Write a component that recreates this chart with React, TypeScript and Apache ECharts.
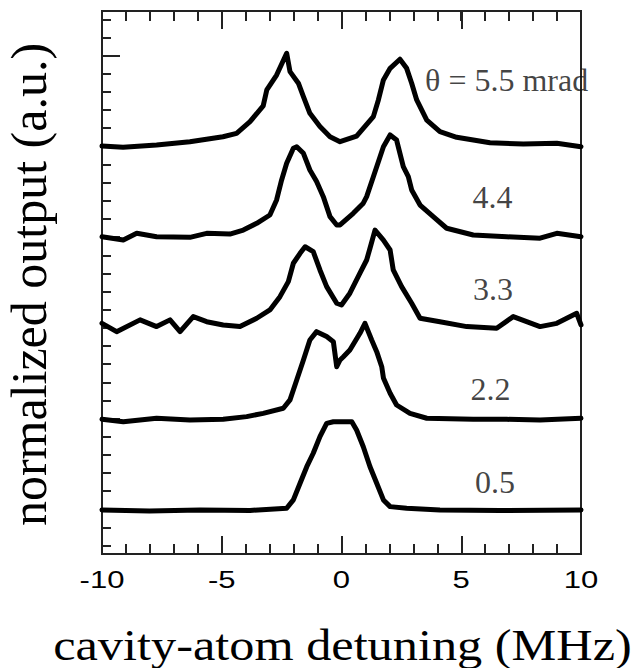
import React, { useEffect, useRef } from "react";
import * as echarts from "echarts";

// ---- data (x: detuning in MHz, y: normalized output, a.u. with offsets) ----
const detuning55 = [-10, -9.12, -7.72, -6.33, -4.95, -4.38, -3.82, -3.27, -3.12, -2.71, -2.29, -2.15, -1.8, -1.59, -1.32, -0.9, -0.48, -0.06, 0.63, 1.33, 1.54, 1.75, 2.03, 2.44, 2.72, 2.93, 3.14, 3.56, 4.11, 4.81, 6.2, 7.59, 8.99, 10];
const output55 = [22.02, 21.95, 22.08, 22.26, 22.53, 22.72, 23.36, 24.23, 25.11, 25.93, 27.13, 26.12, 25.48, 24.74, 23.82, 23.09, 22.53, 22.26, 22.57, 23.64, 24.56, 25.66, 26.3, 26.8, 26.3, 25.48, 24.56, 23.45, 22.81, 22.5, 22.2, 22.13, 22.17, 21.98];

const detuning44 = [-10, -9.11, -8.55, -7.72, -6.33, -5.63, -4.66, -4.1, -3.54, -2.99, -2.71, -2.5, -2.29, -2.01, -1.87, -1.59, -1.32, -1.04, -0.76, -0.48, -0.2, -0.06, 0.49, 0.91, 1.05, 1.33, 1.61, 1.75, 2.03, 2.3, 2.58, 2.79, 2.93, 3.28, 3.83, 4.39, 5.5, 6.9, 8.29, 8.99, 10];
const output44 = [17.02, 16.84, 17.21, 17.02, 16.99, 17.21, 17.17, 17.39, 17.76, 18.22, 19.05, 20.15, 21.07, 21.9, 21.98, 21.62, 20.7, 20.06, 19.23, 18.13, 17.67, 17.67, 18.31, 18.87, 19.23, 20.33, 21.43, 21.98, 22.63, 22.35, 20.88, 20.33, 19.6, 18.77, 18.13, 17.49, 17.12, 17.02, 16.94, 17.21, 17.02];

const detuning33 = [-10, -9.39, -8.41, -7.72, -7.16, -6.74, -6.19, -5.63, -4.94, -4.24, -3.54, -2.99, -2.57, -2.22, -2.01, -1.73, -1.52, -1.18, -0.9, -0.62, -0.2, 0, 0.35, 0.77, 1.05, 1.19, 1.4, 1.75, 2.03, 2.16, 2.51, 2.93, 3.28, 4.11, 5.23, 6.48, 7.17, 8.29, 8.99, 9.82, 10];
const output33 = [12.25, 11.79, 12.44, 12.07, 12.44, 11.79, 12.62, 12.34, 12.16, 12.07, 12.53, 12.99, 13.72, 14.55, 15.56, 16.11, 16.47, 16.2, 15.19, 14.27, 13.36, 13.26, 13.91, 15.01, 15.74, 16.39, 17.39, 16.84, 16.29, 15.19, 14.27, 13.36, 12.53, 12.34, 12.07, 11.98, 12.62, 12.07, 12.25, 12.8, 12.16];

const detuning22 = [-10, -9.11, -7.72, -6.33, -4.94, -3.96, -3.27, -2.43, -2.15, -1.87, -1.59, -1.32, -1.04, -0.62, -0.34, -0.2, -0.06, 0.08, 0.35, 0.77, 0.98, 1.26, 1.47, 1.68, 1.75, 2.03, 2.3, 2.86, 3.56, 5.5, 6.9, 8.29, 10];
const output22 = [6.96, 6.83, 7.02, 6.93, 6.96, 7.11, 7.29, 7.57, 8.03, 9.13, 10.23, 11.33, 11.79, 11.52, 11.24, 9.86, 10.23, 10.41, 10.78, 11.7, 12.25, 11.33, 10.69, 9.86, 9.24, 8.4, 7.75, 7.29, 7.02, 6.96, 6.96, 6.93, 7.02];

const detuning05 = [-10, -8.02, -5.91, -3.82, -2.29, -2.01, -1.73, -1.45, -1.18, -0.9, -0.62, -0.34, -0.06, 0.43, 0.63, 0.91, 1.19, 1.47, 1.75, 2.03, 2.72, 4.11, 6.62, 10];
const output05 = [1.97, 1.91, 1.97, 1.94, 2.06, 2.52, 3.44, 4.35, 5.09, 6.01, 6.74, 6.83, 6.83, 6.83, 6.37, 5.45, 4.35, 3.44, 2.52, 2.15, 2.06, 1.97, 1.94, 1.97];

const curveLabels = ["θ = 5.5 mrad", "4.4", "3.3", "2.2", "0.5"];
const curveLabelX = [3.49, 6.3, 6.33, 6.22, 6.41];
const curveLabelY = [25.66, 19.2, 14.13, 8.62, 3.5];

const xTickValues = [-10, -5, 0, 5, 10];
const xTickLabels = ["-10", "-5", "0", "5", "10"];
const xMinorTicks = [-9, -8, -7, -6, -4, -3, -2, -1, 1, 2, 3, 4, 6, 7, 8, 9];
// 1-MHz bins whose boundaries give the minor ticks of the top axis
const xMinorBins = ["-10", "-9", "-8", "-7", "-6", "-5", "-4", "-3", "-2", "-1", "0", "1", "2", "3", "4", "5", "6", "7", "8", "9"];
const yMinorTicks = [0, 1, 2, 3, 4, 5, 6, 7, 8, 9, 10, 11, 12, 13, 14, 15, 16, 17, 18, 19, 20, 21, 22, 23, 24, 25, 26, 27, 28, 29];
const yMajorTicks = [7, 17, 27];

const xTitle = "cavity-atom detuning (MHz)";
const yTitle = "normalized output (a.u.)";

const zip = (xs: number[], ys: number[]) => xs.map((x, i) => [x, ys[i]]);

export default function App() {
  const ref = useRef<HTMLDivElement>(null);

  useEffect(() => {
    if (!ref.current) return;
    const chart = echarts.init(ref.current, null, { renderer: "svg" });
    const dark = "#222";
    const ls = () => ({ color: dark, width: 2 });
    const yMin = -0.46;
    const yMax = 29.46;

    const traces = [
      zip(detuning55, output55),
      zip(detuning44, output44),
      zip(detuning33, output33),
      zip(detuning22, output22),
      zip(detuning05, output05),
    ];

    chart.setOption({
      animation: false,
      backgroundColor: "#fff",
      grid: {
        left: 102, right: 54, top: 11, bottom: 114, containLabel: false,
        show: true, borderColor: dark, borderWidth: 2, backgroundColor: "transparent",
      },
      xAxis: [
        {
          type: "value", position: "bottom", min: -10, max: 10, interval: 5,
          axisLine: { show: true, onZero: false, lineStyle: ls() },
          axisTick: { show: true, inside: true, length: 18, lineStyle: ls() },
          axisLabel: { show: false }, splitLine: { show: false },
        },
        {
          type: "value", position: "bottom", min: -10, max: 10,
          axisLine: { show: true, onZero: false, lineStyle: ls() },
          axisTick: { show: true, inside: true, length: 10, customValues: xMinorTicks, lineStyle: ls() },
          axisLabel: { show: false }, splitLine: { show: false },
        },
        {
          type: "category", position: "top", data: xMinorBins, boundaryGap: true,
          axisLine: { show: true, onZero: false, lineStyle: ls() },
          axisTick: { show: true, inside: true, length: 10, interval: 0, lineStyle: ls() },
          axisLabel: { show: false }, splitLine: { show: false },
        },
        {
          type: "value", position: "top", min: -10, max: 10, interval: 5,
          axisLine: { show: true, onZero: false, lineStyle: ls() },
          axisTick: { show: true, inside: true, length: 18, lineStyle: ls() },
          axisLabel: { show: false }, splitLine: { show: false },
        },
      ],
      yAxis: [
        {
          type: "value", position: "left", min: yMin, max: yMax,
          axisLine: { show: true, onZero: false, lineStyle: ls() },
          axisTick: { show: true, inside: true, length: 9, customValues: yMinorTicks, lineStyle: ls() },
          axisLabel: { show: false }, splitLine: { show: false },
        },
        {
          type: "value", position: "left", min: yMin, max: yMax,
          axisLine: { show: true, onZero: false, lineStyle: ls() },
          axisTick: { show: true, inside: true, length: 18, customValues: yMajorTicks, lineStyle: ls() },
          axisLabel: { show: false }, splitLine: { show: false },
        },
      ],
      series: [
        ...traces.map((d) => ({
          type: "line", xAxisIndex: 0, yAxisIndex: 0, data: d,
          showSymbol: false, symbol: "none", silent: true, z: 3,
          lineStyle: { color: "#000", width: 5, join: "round", cap: "round" },
        })),
        {
          type: "scatter", xAxisIndex: 0, yAxisIndex: 0, symbolSize: 1, silent: true, z: 4,
          itemStyle: { color: "rgba(0,0,0,0)" },
          label: {
            show: true, position: "inside", fontFamily: "Liberation Serif", fontSize: 32, color: "#111",
            formatter: (p: any) => p.name,
          },
          data: curveLabels.map((t, i) => ({
            name: t,
            value: [curveLabelX[i], curveLabelY[i]],
            label: i === 0 ? { align: "left" } : undefined,
          })),
        },
      ],
    });

    // tick labels placed through the x axis scale, horizontally stretched like the reference
    const tickLabelGraphics = xTickValues.map((v, i) => {
      const px = chart.convertToPixel({ xAxisIndex: 0 }, v) as number;
      return {
        type: "text", x: px, y: 580, scaleX: 1.35, silent: true,
        style: {
          text: xTickLabels[i], fontFamily: "Liberation Sans", fontSize: 23, fill: "#000",
          textAlign: "center", textVerticalAlign: "middle", align: "center", verticalAlign: "middle",
        },
      };
    });

    chart.setOption({
      graphic: [
        ...tickLabelGraphics,
        {
          type: "text", x: 342.5, y: 645, scaleX: 1.144, silent: true,
          style: {
            text: xTitle, fontFamily: "Liberation Serif", fontSize: 44, fill: "#000",
            textAlign: "center", textVerticalAlign: "middle", align: "center", verticalAlign: "middle",
          },
        },
        {
          type: "text", x: 28.5, y: 284.5, rotation: Math.PI / 2, silent: true,
          style: {
            text: yTitle, fontFamily: "Liberation Serif", fontSize: 50, fill: "#000",
            textAlign: "center", textVerticalAlign: "middle", align: "center", verticalAlign: "middle",
          },
        },
      ],
    });

    return () => chart.dispose();
  }, []);

  return (
    <div
      ref={ref}
      style={{ position: "absolute", left: 0, top: 0, width: 635, height: 668, background: "#fff" }}
    />
  );
}
